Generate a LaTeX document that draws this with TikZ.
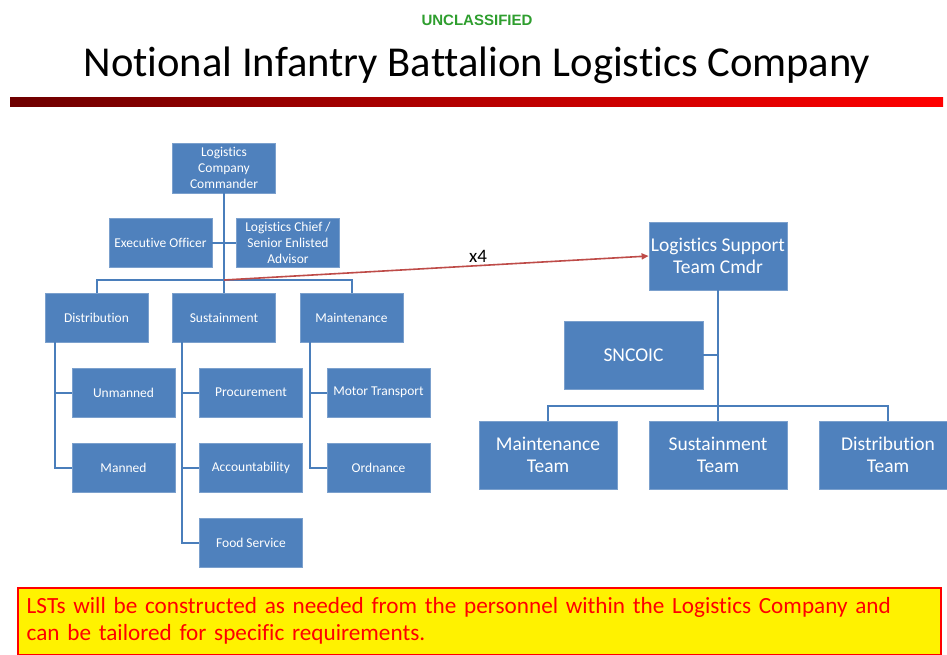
\documentclass[tikz,border=0pt]{standalone}
\usepackage{fontspec}
\setmainfont{Carlito}[Ligatures=NoCommon]
\newfontfamily\arialfont{Liberation Sans}
\usetikzlibrary{arrows.meta}
\definecolor{boxblue}{HTML}{4F81BD}
\definecolor{lineblue}{HTML}{4A7EBB}
\definecolor{arrowred}{HTML}{BE4B48}
\definecolor{unclgreen}{HTML}{2E9E2E}
\begin{document}
\begin{tikzpicture}[x=1pt,y=-1pt,
  box/.style={fill=boxblue, draw=boxblue!75!white, line width=0.8pt, text=white, align=center, inner sep=1pt, font=\fontsize{13.5}{16}\selectfont},
  sbox/.style={box, minimum width=103pt, minimum height=49pt},
  bbox/.style={box, minimum width=138pt, minimum height=68pt, font=\fontsize{19.5}{22}\selectfont},
  conn/.style={draw=lineblue, line width=2pt},
  redarrow/.style={draw=arrowred, line width=1.6pt, -{Triangle[length=7pt,width=6pt]}},
]
\useasboundingbox (0,0) rectangle (947,654);
\clip (0,0) rectangle (947,654);
\fill[white] (0,0) rectangle (947,654);

% header
\node[font=\arialfont\bfseries\fontsize{15}{17}\selectfont, text=unclgreen] (uncl) at (477,20) {UNCLASSIFIED};
\node[font=\fontsize{42.6}{48}\selectfont] (title) at (477,65) {Notional Infantry Battalion Logistics Company};
\shade[left color={rgb,255:red,110;green,0;blue,0}, right color={rgb,255:red,255;green,0;blue,0}] (10,97) rectangle (943,106);

% left chart
\node[sbox, minimum height=50pt] (cmd) at (224,168) {Logistics\\Company\\Commander};
\node[sbox] (xo) at (160.5,243) {Executive Officer};
\node[sbox] (chief) at (288,243) {Logistics Chief /\\Senior Enlisted\\Advisor};
\node[sbox] (dist) at (96.5,317.5) {Distribution};
\node[sbox] (sus) at (224,317.5) {Sustainment};
\node[sbox] (mnt) at (351.5,317.5) {Maintenance};
\node[sbox] (unm) at (123.5,392.5) {Unmanned};
\node[sbox] (man) at (123.5,467.5) {Manned};
\node[sbox] (proc) at (251,392.5) {Procurement};
\node[sbox] (acc) at (251,467.5) {Accountability};
\node[sbox] (food) at (251,542.5) {Food Service};
\node[sbox] (mtr) at (378.5,392.5) {Motor Transport};
\node[sbox] (ord) at (378.5,467.5) {Ordnance};

\coordinate (j1) at (224,280);
\draw[conn] (cmd.south) -- (sus.north);
\draw[conn] (xo.east) -- (chief.west);
\draw[conn] (dist.north) |- (j1) -| (mnt.north);
\draw[conn] (dist.south west) ++(10,0) |- (unm.west);
\draw[conn] (dist.south west) ++(10,0) |- (man.west);
\draw[conn] (sus.south west) ++(10,0) |- (proc.west);
\draw[conn] (sus.south west) ++(10,0) |- (acc.west);
\draw[conn] (sus.south west) ++(10,0) |- (food.west);
\draw[conn] (mnt.south west) ++(10,0) |- (mtr.west);
\draw[conn] (mnt.south west) ++(10,0) |- (ord.west);

% right chart
\node[bbox] (lst) at (718,256) {Logistics Support\\Team Cmdr};
\node[bbox, minimum width=139pt] (snc) at (633.5,355) {SNCOIC};
\node[bbox] (mt) at (548,455) {Maintenance\\Team};
\node[bbox] (stm) at (718,455) {Sustainment\\Team};
\node[bbox] (dt) at (888,455) {Distribution\\Team};

\coordinate (j2) at (718,406);
\draw[conn] (lst.south) -- (stm.north);
\draw[conn] (snc.east) -- (snc.east -| lst.south);
\draw[conn] (mt.north) |- (j2) -| (dt.north);

% arrow
\draw[redarrow] (j1) -- (lst.west);
\node[font=\fontsize{19}{22}\selectfont] (x4) at (478,256) {x4};

% note
\node[draw=red, line width=1.5pt, fill=yellow, anchor=north west, minimum width=923pt, text width=905pt, align=left, text=red, font=\fontsize{23.2}{27}\selectfont, inner xsep=9pt, inner ysep=10pt] (note) at (17,587) {LSTs will be constructed as needed from the personnel within the Logistics Company and\\can be tailored for specific requirements.};
\end{tikzpicture}
\end{document}
